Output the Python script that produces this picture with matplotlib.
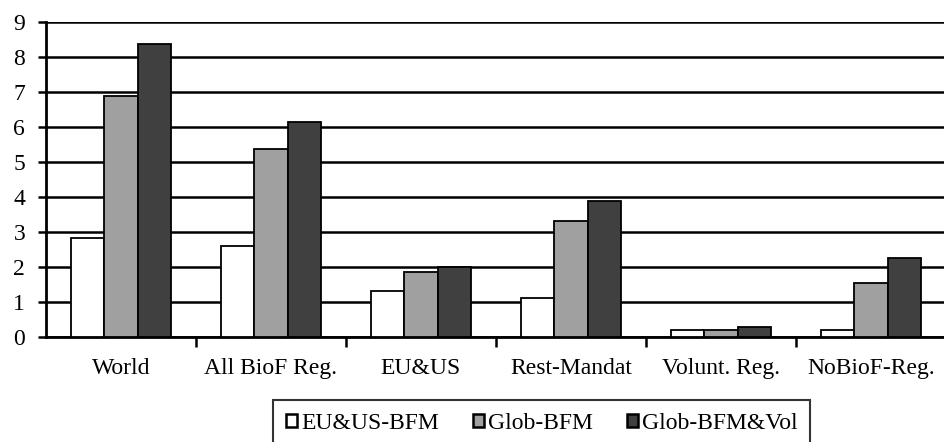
import numpy as np
import matplotlib.pyplot as plt
from matplotlib.patches import Patch

# regions on the x axis
regions = ["World", "All BioF Reg.", "EU&US", "Rest-Mandat", "Volunt. Reg.", "NoBioF-Reg."]

# one list per scenario
eu_us_bfm = [2.82, 2.60, 1.31, 1.10, 0.20, 0.20]
glob_bfm = [6.88, 5.36, 1.85, 3.31, 0.20, 1.53]
glob_bfm_vol = [8.36, 6.13, 1.99, 3.87, 0.28, 2.25]

series_names = ["EU&US-BFM", "Glob-BFM", "Glob-BFM&Vol"]
series_colors = ["#ffffff", "#a0a0a0", "#404040"]

plt.rcParams["font.family"] = ["Liberation Serif", "DejaVu Serif"]

fig = plt.figure(figsize=(9.44, 4.42), dpi=100)
ax = fig.add_axes([0.0487, 0.2376, 0.9534, 0.7133])

x = np.arange(len(regions))
w = 0.224
for k, (vals, col) in enumerate(zip([eu_us_bfm, glob_bfm, glob_bfm_vol], series_colors)):
    ax.bar(x + (k - 1) * w, vals, width=w, color=col, edgecolor="black",
           linewidth=1.3, zorder=3)

ax.set_xlim(-0.5, len(regions) - 0.5)
ax.set_ylim(0, 9)
ax.set_yticks(range(0, 10))
ax.yaxis.grid(True, color="black", linewidth=1.8, zorder=0)
ax.set_axisbelow(True)

# category labels centred, ticks on the boundaries
ax.set_xticks(x)
ax.set_xticklabels(regions)
ax.tick_params(axis="x", length=0, pad=15, labelsize=17)
ax.set_xticks(np.arange(0.5, len(regions) - 0.5), minor=True)
ax.tick_params(axis="x", which="minor", length=7, width=1.8, direction="out")
ax.tick_params(axis="y", length=6, width=1.8, direction="out", labelsize=17, pad=9)

for s in ["top", "right"]:
    ax.spines[s].set_visible(False)
for s in ["left", "bottom"]:
    ax.spines[s].set_linewidth(2)

handles = [Patch(facecolor=c, edgecolor="black", linewidth=1.8) for c in series_colors]
leg = fig.legend(handles, series_names, loc="upper left",
                 bbox_to_anchor=(273 / 944, 1 - 400 / 442), ncol=3, fontsize=17,
                 frameon=True, fancybox=False, handlelength=0.48, handleheight=0.48,
                 handletextpad=0.15, columnspacing=1.45, borderpad=0.55,
                 borderaxespad=0)
leg.get_frame().set_edgecolor("black")
leg.get_frame().set_linewidth(1.5)

fig.savefig("out.png", dpi=100)
